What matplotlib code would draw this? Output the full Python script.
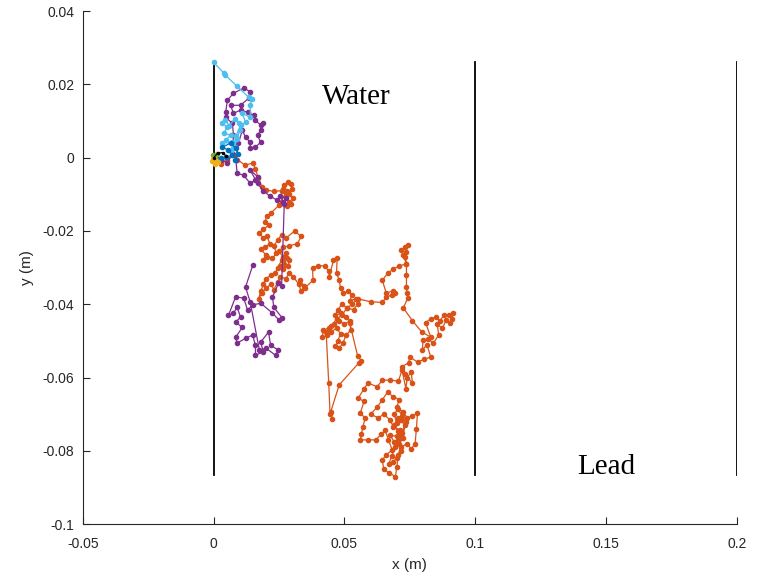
import matplotlib
matplotlib.use("Agg")
import matplotlib.pyplot as plt
import numpy as np

# ---------------- data (mm) ----------------
orange_x = [0, 1.5, 3, 5, 8, 9, 12, 15, 16, 17, 18.5, 20, 23, 26, 27, 28.5, 29.5, 30, 29, 30.5, 29.5, 28, 29, 27.5, 26.5, 28,
            25, 22, 20.5, 19.5, 21, 19, 17.5, 19, 20.5, 21.5, 19.5, 18, 20, 19, 20.5, 22.5, 24, 23, 24.5, 26, 27.5, 31, 33.5, 32, 29,
            26.5, 25, 26.5, 28, 27, 25.5, 26.5, 28.5, 29, 27.5, 26, 24.5, 23.5, 22, 20, 19, 18, 17.2, 18.5, 20, 22, 23, 24.5, 25.5,
            27.5, 29, 30.5, 32.5, 33.5, 34.5, 33, 35, 38, 37.8, 40, 42.5, 44, 44.2, 45.8, 47.2, 47, 48, 48.5,
            49.5, 51.5, 53, 52, 54.5, 55, 53.5, 51, 49, 47.5, 46.5, 48.5, 50.5, 52, 50, 48, 46, 44, 42, 41.5, 43.5, 45, 47, 48.5,
            47.5, 46.5, 48, 49.5, 50.5, 52.5, 52, 55, 56.5, 55.5, 48, 44.7, 45.4, 44.5, 44, 43, 45, 47, 49, 51, 53, 55,
            60, 64.5, 66, 68, 69.5, 68.5, 66, 64.5, 66.5, 68.7, 71, 73.7, 72.5, 71.8, 73, 74.2, 73.5, 73.2, 73.7, 73.7, 73.7, 74,
            74.2, 72.5, 76, 79.5, 83, 81, 83, 85, 86.5, 88, 90, 91.6, 91, 90.5, 89, 87.4, 85.5, 86, 84, 82, 80, 79.8, 81.5, 83,
            80.5, 78, 75, 74.5, 72, 73, 76, 75.5, 74, 73.5, 72, 70.6, 67.5, 64.5, 62.5, 59, 57.5, 55.3, 57.5, 56, 58, 57, 56.5,
            56, 59, 62, 64, 65.6, 66.8, 68.3, 66, 64.5, 65, 67, 69.5, 70, 70.6, 71.5, 74, 75.5, 77, 77.5, 77.9, 76, 74, 72.5,
            70, 71, 68.7, 66.5, 64.5, 62.6, 60, 63, 65, 67.5, 68.7, 71.4, 70, 67.5, 69, 71, 72.5, 73, 71.5, 70, 69, 70.5, 72,
            73.5, 72, 70.5, 71.5, 70, 68.5, 67, 68, 69.5, 71, 70.5, 69, 70.5]
orange_y = [0, -1, -1.8, -0.5, 0.8, -0.5, -2, -1.5, -3, -5.5, -8, -8.8, -9.2, -9, -7.5, -6.5, -7.2, -8.5, -10, -11, -12.5, -13.2,
            -12, -10.5, -8.5, -9,
            -13, -15, -16, -17.5, -18.5, -19.5, -20.5, -22, -21.5, -23.5, -24.5, -25, -26.5, -28, -27, -27.5, -26, -24, -22.5, -21,
            -22, -20, -21.5, -23.5, -24, -24.5, -25.5, -27, -27.5, -29, -29.5, -30.5, -29.5, -28, -26, -28, -30, -31.5, -32,
            -33, -34.5, -36.5, -38.5, -37, -35.5, -34.5, -36, -34, -32.5, -33, -31.5, -32.5, -34.5, -36.5, -35, -33.5, -35.5,
            -33.4, -30, -29.5, -29.5, -31, -32.5, -28, -27.4, -31.5, -33.4, -35.6,
            -37, -36.5, -37.5, -39, -38.5, -40, -41.5, -41, -40, -41.5, -43, -42.5, -43.5, -44.5, -45.5, -44.5, -45.5, -46.5,
            -47, -49, -48.5, -47.5, -46.5, -48, -50, -51.5, -52, -50.5, -48.5, -47, -45, -54, -55.5, -56, -62, -69.5, -71.3,
            -70, -61.5, -47.5, -46, -44, -43, -41, -40, -38.5,
            -39.3, -39.5, -38, -37.5, -37, -36.3, -37, -33.5, -31.5, -30.4, -29.5, -29, -26.6, -25.3, -24.5, -23.7, -25.8, -27,
            -29, -32, -35.3, -37, -38.3, -41, -44.5, -47.5, -49, -45, -44, -43.5, -44.5, -43, -42.8, -42.5, -44, -45, -44.2,
            -46.5, -45.5, -48.4, -50.6, -49.5, -49.8, -52.5, -51, -54.4, -55, -55.8, -54.4, -56, -57, -59, -61.5, -58.5, -60,
            -63, -58, -61, -60.7, -60.7, -62.5, -61.5, -63, -65.6, -66.5, -69.8, -71, -73.5, -75.5, -77, -77, -77, -75.5, -74.4,
            -77, -79.8, -81, -82.5, -85, -86, -87, -84.4, -81, -79, -78, -79.5, -78, -74, -69.7, -70.5, -71, -69.5, -68, -66,
            -65.3, -64, -66, -68, -70, -71, -70, -71.6, -73.5, -74.4, -76, -75.8, -77.5, -78, -76.5, -73, -71.5, -72.5, -70,
            -68.5, -70.5, -72, -75, -77, -80, -82, -83, -83.5, -81.5, -79, -76, -74.5, -73, -71]

purple_x = [0, 3, 5.3, 7.2, 7.6, 7.2, 4.6, 4.6, 5.3, 7.6, 11.5, 14, 13.4, 10.3, 6.5, 7.6, 10.3, 13, 15.3, 16, 18, 19, 18,
            16.8, 18, 16, 14, 14, 12.2, 11, 9.5, 8.5, 9, 11.5, 14, 16, 17, 14, 16.8, 19, 21.5, 24.4, 26.7, 27.5, 25.5, 27,
            26, 24.8, 22.5, 23, 26.3, 25, 22.5, 18, 14.9, 13, 11.5, 8.4, 5.7, 7.6, 9, 10.3, 8.4, 11, 8.4, 9, 12.2, 14.9,
            16, 16, 19, 18, 21, 21.8, 24.8, 23.7, 20, 17.5, 14, 12.2, 15]
purple_y = [0, -0.5, -1.5, 1.2, 6.1, 9.4, 11, 12.4, 15.7, 17.6, 19, 18, 16.2, 14.3, 14.3, 12.1, 13, 12.4, 11.6, 10.2, 8.9,
            9.4, 7.5, 6.1, 4.2, 2.9, 2.6, 4.2, 5.6, 7.5, 4, -0.5, -4.2, -4.8, -7, -6.1, -5.3, -3.4, -7, -9, -10.5, -11.6,
            -12.1, -11, -10.5, -12.5, -35, -34.3, -38, -40.8, -43.8, -44.3, -42.4, -39.7, -40.2, -41.6, -38.3, -38, -43,
            -42.4, -40.8, -43.5, -44.9, -46.3, -49, -50.6, -49.3, -48.4, -51.2, -53.9, -53, -50.3, -47.6, -51.2, -52.5,
            -53.9, -52, -52.5, -39.4, -35.3, -29.3]

lblue_x = [0, 3.8, 4.5, 9, 13.4, 14.5, 14, 14, 11, 12.2, 10.5, 8.5, 7.6, 7.2, 3.4, 4.6, 6.5, 3.8, 5.3, 3.4, 4.5, 6, 8, 9.8,
           10, 9, 8, 6.5]
lblue_y = [26, 23.2, 22.5, 19.5, 16.5, 16, 14.3, 11, 12.1, 9.7, 9, 6, 2.6, 4.2, 4, 4.8, 6.1, 6.7, 8.3, 9.4, 10.2, 8.7, 10.5,
           9.5, 7.5, 5, 3, 1.8]

dblue_x = [0, 2.7, 4.6, 7.2, 5.7, 3.4, 6.5, 8.4, 9.5, 8]
dblue_y = [0.5, -0.1, 0.1, 0.7, 2, 2.9, 4, 2.6, 1, -0.5]

black_x = [0, 1.5, 3.5, 4.8]
black_y = [0, 1.2, 1.4, 0.4]

yellow_x = [0, -0.5, 0.5, 1, 1.5]
yellow_y = [0, -1, -1.8, -0.8, -1.3]

green_x = [0, -0.3, 0.7, 1.2, 0.5]
green_y = [0, 0.8, 0.4, 0.9, -0.3]

boundaries_x = [0.0, 0.1, 0.2]
boundary_y = [-0.0865, 0.026]
labels = ["Water", "Lead"]
label_pos = [(0.0545, 0.0165), (0.150, -0.0845)]

# ---------------- figure ----------------
fig = plt.figure(figsize=(7.59, 5.85), dpi=100)
ax = fig.add_axes([0.109, 0.104, 0.862, 0.877])

tracks = [
    (orange_x, orange_y, (0.850, 0.325, 0.098), 3.0),
    (purple_x, purple_y, (0.494, 0.184, 0.556), 3.0),
    (lblue_x, lblue_y, (0.301, 0.745, 0.933), 3.0),
    (dblue_x, dblue_y, (0.0, 0.447, 0.741), 3.0),
    (green_x, green_y, (0.466, 0.674, 0.188), 3.0),
    (yellow_x, yellow_y, (0.929, 0.694, 0.125), 3.0),
    (black_x, black_y, (0.0, 0.0, 0.0), 1.5),
]
for xs, ys, c, ms in tracks:
    ax.plot(np.array(xs) / 1000.0, np.array(ys) / 1000.0, '-o', color=c, lw=0.9,
            ms=ms, mfc=c, mec=c, zorder=3)

for bx in boundaries_x:
    ax.plot([bx, bx], boundary_y, color='black', lw=1.3, zorder=2, snap=True)

for t, (tx, ty) in zip(labels, label_pos):
    ax.text(tx, ty, t, fontsize=21, family='Liberation Serif', ha='center', va='center')

ax.set_xlim(-0.05, 0.2)
ax.set_ylim(-0.1, 0.04)
ax.set_xticks([-0.05, 0, 0.05, 0.1, 0.15, 0.2])
ax.set_xticklabels(['-0.05', '0', '0.05', '0.1', '0.15', '0.2'])
ax.set_yticks([-0.1, -0.08, -0.06, -0.04, -0.02, 0, 0.02, 0.04])
ax.set_yticklabels(['-0.1', '-0.08', '-0.06', '-0.04', '-0.02', '0', '0.02', '0.04'])
for s in ['top', 'right']:
    ax.spines[s].set_visible(False)
for s in ['left', 'bottom']:
    ax.spines[s].set_linewidth(0.8)
    ax.spines[s].set_color('#262626')
ax.tick_params(direction='in', length=5, width=0.8, labelsize=10, colors='#262626')
ax.tick_params(axis='x', pad=9)
ax.tick_params(axis='y', pad=6)
for lab in ax.get_xticklabels() + ax.get_yticklabels():
    lab.set_family('Liberation Sans')
ax.set_xlabel('x (m)', fontsize=11, family='Liberation Sans', color='#262626', labelpad=5)
ax.set_ylabel('y (m)', fontsize=11, family='Liberation Sans', color='#262626', labelpad=6)

fig.savefig('out.png', dpi=100)
